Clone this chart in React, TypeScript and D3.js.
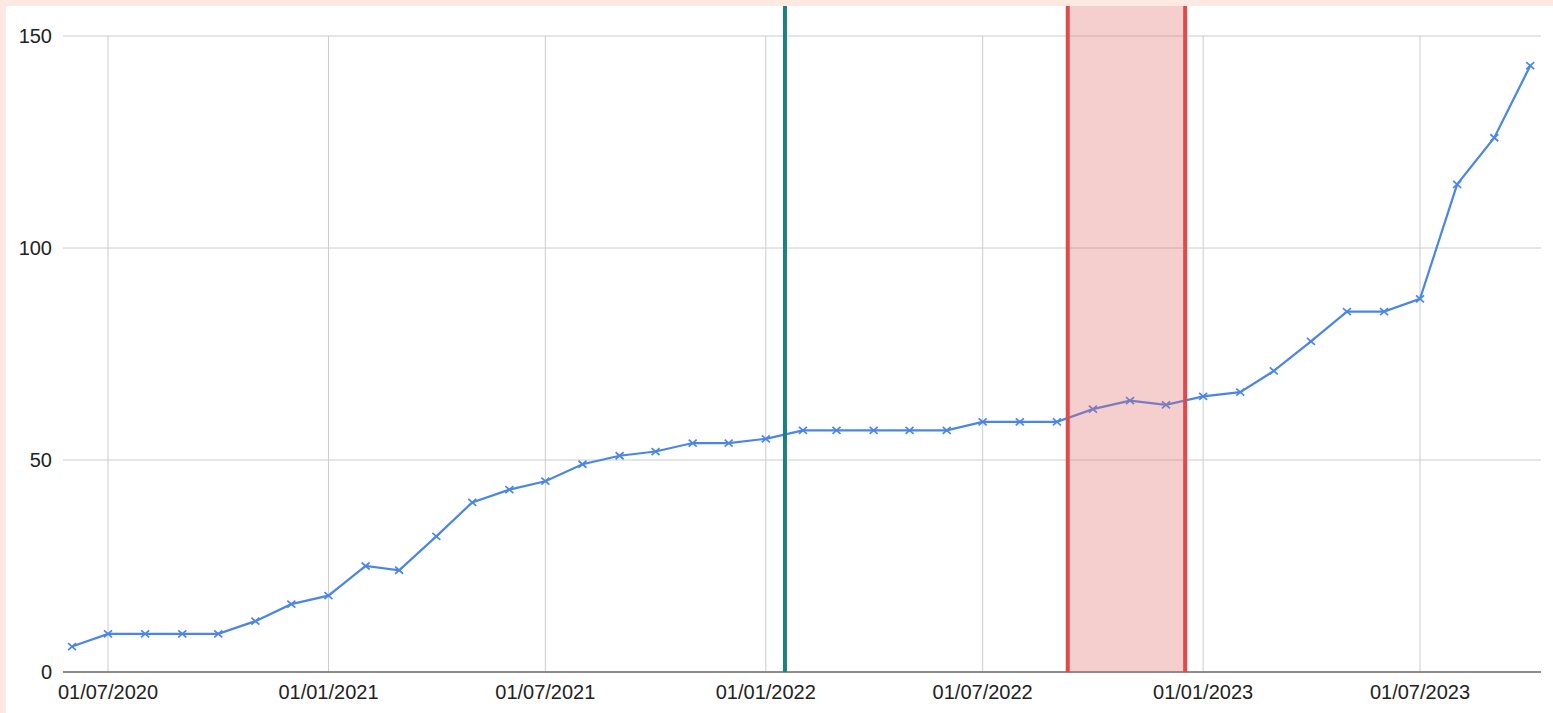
import React from "react";
import * as d3 from "d3";

const months: string[] = [
  "2020-06-01","2020-07-01","2020-08-01","2020-09-01","2020-10-01","2020-11-01","2020-12-01",
  "2021-01-01","2021-02-01","2021-03-01","2021-04-01","2021-05-01","2021-06-01","2021-07-01",
  "2021-08-01","2021-09-01","2021-10-01","2021-11-01","2021-12-01",
  "2022-01-01","2022-02-01","2022-03-01","2022-04-01","2022-05-01","2022-06-01","2022-07-01",
  "2022-08-01","2022-09-01","2022-10-01","2022-11-01","2022-12-01",
  "2023-01-01","2023-02-01","2023-03-01","2023-04-01","2023-05-01","2023-06-01","2023-07-01",
  "2023-08-01","2023-09-01","2023-10-01",
];
const values: number[] = [
  6, 9, 9, 9, 9, 12, 16,
  18, 25, 24, 32, 40, 43, 45,
  49, 51, 52, 54, 54,
  55, 57, 57, 57, 57, 57, 59,
  59, 59, 62, 64, 63,
  65, 66, 71, 78, 85, 85, 88,
  115, 126, 143,
];
const xTickDates: string[] = ["2020-07-01","2021-01-01","2021-07-01","2022-01-01","2022-07-01","2023-01-01","2023-07-01"];
const yTicks: number[] = [0, 50, 100, 150];
const markerDate = "2022-01-17";
const bandStart = "2022-09-10";
const bandEnd = "2022-12-17";

const W = 1553, H = 713;
const parse = d3.timeParse("%Y-%m-%d");
const fmt = d3.timeFormat("%d/%m/%Y");

export default function App() {
  const x = d3.scaleTime()
    .domain([parse("2020-07-01")!, parse("2023-07-01")!])
    .range([108, 1420]);
  const y = d3.scaleLinear().domain([0, 150]).range([672, 36]);
  const left = 63, right = 1541;
  const pts = months.map((m, i) => [x(parse(m)!), y(values[i])] as [number, number]);
  const line = d3.line()(pts) || "";
  const topY = 6;
  const bx0 = x(parse(bandStart)!), bx1 = x(parse(bandEnd)!);
  const mx = x(parse(markerDate)!);
  return (
    <svg width={W} height={H} style={{ position: "absolute", left: 0, top: 0 }} fontFamily="'Liberation Sans', Arial, sans-serif">
      <rect x={0} y={0} width={W} height={H} fill="#fce9e1" />
      <rect x={6} y={6} width={W - 6} height={H - 6} fill="#ffffff" />
      {yTicks.filter(t => t > 0).map(t => (
        <line key={"gy" + t} x1={left} x2={right} y1={y(t)} y2={y(t)} stroke="#cccccc" strokeWidth={1} />
      ))}
      {xTickDates.map(d => (
        <line key={"gx" + d} x1={x(parse(d)!)} x2={x(parse(d)!)} y1={y(150)} y2={y(0)} stroke="#cccccc" strokeWidth={1} />
      ))}
      <line x1={left} x2={right} y1={y(0)} y2={y(0)} stroke="#666666" strokeWidth={1.3} />
      <path d={line} fill="none" stroke="#4a86e8" strokeWidth={2.2} />
      {pts.map((p, i) => (
        <g key={"m" + i} stroke="#4a86e8" strokeWidth={1.7}>
          <line x1={p[0] - 4} y1={p[1] - 3.5} x2={p[0] + 4} y2={p[1] + 3.5} />
          <line x1={p[0] - 4} y1={p[1] + 3.5} x2={p[0] + 4} y2={p[1] - 3.5} />
        </g>
      ))}
      <rect x={bx0} y={topY} width={bx1 - bx0} height={y(0) - topY} fill="#e06666" fillOpacity={0.32} />
      <line x1={mx} x2={mx} y1={topY} y2={y(0)} stroke="#1c8080" strokeWidth={4} />
      <line x1={bx0} x2={bx0} y1={topY} y2={y(0)} stroke="#e04a4a" strokeWidth={4} />
      <line x1={bx1} x2={bx1} y1={topY} y2={y(0)} stroke="#e04a4a" strokeWidth={4} />
      {yTicks.map(t => (
        <text key={"ty" + t} x={52} y={y(t)} dy="0.36em" textAnchor="end" fontSize={20} fill="#222222">{t}</text>
      ))}
      {xTickDates.map(d => (
        <text key={"tx" + d} x={x(parse(d)!)} y={699} textAnchor="middle" fontSize={20} fill="#222222">{fmt(parse(d)!)}</text>
      ))}
    </svg>
  );
}
